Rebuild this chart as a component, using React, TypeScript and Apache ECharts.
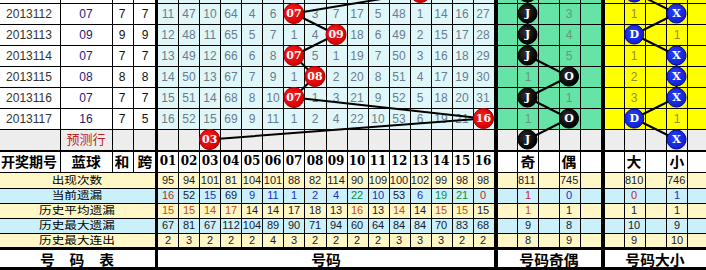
import React, { useEffect, useRef } from 'react';
import * as echarts from 'echarts';

// ---------------- data ----------------
const periods = ['2013112', '2013113', '2013114', '2013115', '2013116', '2013117'];
const blueBalls = [7, 9, 7, 8, 7, 16];
const digitSums = [7, 9, 7, 8, 7, 7];
const digitSpans = [7, 9, 7, 8, 7, 5];
const previousBall = 13; // 2013111, only its lower edge is visible
const predictedBall = 3;
const numberLabels = ['01', '02', '03', '04', '05', '06', '07', '08', '09', '10', '11', '12', '13', '14', '15', '16'];
const missRows: (number | null)[][] = [
  [11, 47, 10, 64, 4, 6, null, 3, 7, 17, 5, 48, 1, 14, 16, 27],
  [12, 48, 11, 65, 5, 7, 1, 4, null, 18, 6, 49, 2, 15, 17, 28],
  [13, 49, 12, 66, 6, 8, null, 5, 1, 19, 7, 50, 3, 16, 18, 29],
  [14, 50, 13, 67, 7, 9, 1, null, 2, 20, 8, 51, 4, 17, 19, 30],
  [15, 51, 14, 68, 8, 10, null, 1, 3, 21, 9, 52, 5, 18, 20, 31],
  [16, 52, 15, 69, 9, 11, 1, 2, 4, 22, 10, 53, 6, 19, 21, null],
];
const oddEvenMiss: (number | null)[][] = [[null, 3], [null, 4], [null, 5], [1, null], [null, 1], [1, null]];
const bigSmallMiss: (number | null)[][] = [[1, null], [null, 1], [1, null], [2, null], [3, null], [null, 1]];
const oddEvenLabels = ['奇', '偶'];
const bigSmallLabels = ['大', '小'];
const statLabels = ['出现次数', '当前遗漏', '历史平均遗漏', '历史最大遗漏', '历史最大连出'];
const appearCount = [95, 94, 101, 81, 104, 101, 88, 82, 114, 90, 109, 100, 102, 99, 98, 98];
const currentMiss = [16, 52, 15, 69, 9, 11, 1, 2, 4, 22, 10, 53, 6, 19, 21, 0];
const avgMiss = [15, 15, 14, 17, 14, 14, 17, 18, 13, 16, 13, 14, 14, 15, 15, 15];
const maxMiss = [67, 81, 67, 112, 104, 89, 90, 71, 94, 60, 64, 84, 84, 70, 83, 68];
const maxStreak = [2, 3, 2, 2, 2, 4, 3, 2, 2, 2, 2, 3, 3, 3, 2, 2];
const oddEvenStats = [[811, 745], [1, 0], [1, 1], [9, 8], [8, 9]];
const bigSmallStats = [[810, 746], [0, 1], [1, 1], [10, 9], [9, 10]];
// colour codes of the coloured statistic rows
const currentMissTone = ['r', 'k', 'b', 'k', 'b', 'b', 'b', 'b', 'b', 'g', 'b', 'k', 'b', 'g', 'g', 'r'];
const avgMissTone = ['o', 'o', 'o', 'o', 'k', 'k', 'k', 'k', 'k', 'o', 'k', 'o', 'k', 'o', 'o', 'k'];
const oddEvenTone = [['k', 'k'], ['r', 'b'], ['o', 'k'], ['k', 'k'], ['k', 'k']];
const bigSmallTone = [['k', 'k'], ['r', 'b'], ['k', 'k'], ['k', 'k'], ['k', 'k']];

// ---------------- layout ----------------
const W = 706;
const H = 270;
const LEFT_EDGES = [-2, 60, 111.5, 133, 156];
const NUM_X0 = 157;
const NUM_W = 21.0625;
const OE_EDGES = [497, 517, 538, 558.5, 579.5, 601];
const BS_EDGES = [604, 623.5, 645, 666, 687, 708];
const ROW_TOP0 = 3;
const ROW_H = 21;
const HEAD_Y = [150, 171.5];
const STAT_Y = [171.5, 187.5, 202.5, 217.5, 232.5, 247.5];
const FOOT_Y = [248, 268];
const THICK_V = [[155, 158], [494, 497], [601, 604]];
const THICK_H = [[150, 152], [247, 250], [267, 270]];

const WHITE = '#FFFFFF';
const GREY = '#EDEDED';
const CYAN = '#E0F7FA';
const GREEN = '#66E3A6';
const YELLOW = '#FFFF00';
const STAT_FILL = ['#FFF7C6', '#C9F0FB'];
const TONES: Record<string, string> = { r: '#C0282A', k: '#1A1A2E', b: '#1A2FC4', g: '#138A3A', o: '#C8500A' };

const SANS = "'Liberation Sans', Arial, sans-serif";
const NARROW = "'Liberation Sans Narrow', 'Liberation Sans', Arial, sans-serif";
const SERIF = "'DejaVu Serif', serif";
const CJK = "'Noto Sans CJK SC', sans-serif";

const rowTop = (k: number) => ROW_TOP0 + k * ROW_H;
const rowMid = (k: number) => rowTop(k) + ROW_H / 2;
const numEdge = (i: number) => NUM_X0 + i * NUM_W;
const numMid = (n: number) => NUM_X0 + (n - 0.5) * NUM_W;
const mid = (e: number[], i: number) => (e[i] + e[i + 1]) / 2;

type Cell = { x0: number; y0: number; x1: number; y1: number; fill: string; stroke: boolean };
type Txt = {
  x: number; y: number; text: string; color: string; size: number; family: string; weight: string; align: string; sx: number;
};

function buildTable() {
  const cells: Cell[] = [];
  const texts: Txt[] = [];
  const cell = (x0: number, y0: number, x1: number, y1: number, fill: string) =>
    cells.push({ x0, y0, x1, y1, fill, stroke: true });
  const txt = (x: number, y: number, text: string, color: string, size: number, family: string, weight = 'normal', align = 'center', sx = 1) =>
    texts.push({ x, y, text, color, size, family, weight, align, sx });

  const rowCells = (y0: number, y1: number, left: string, num: string, oe: string, bs: string, mergedLeft: boolean) => {
    if (mergedLeft) cell(LEFT_EDGES[0], y0, LEFT_EDGES[4], y1, left);
    else for (let i = 0; i < 4; i++) cell(LEFT_EDGES[i], y0, LEFT_EDGES[i + 1], y1, left);
    for (let i = 0; i < 16; i++) cell(numEdge(i), y0, numEdge(i + 1), y1, num);
    for (let i = 0; i < 5; i++) cell(OE_EDGES[i], y0, OE_EDGES[i + 1], y1, oe);
    for (let i = 0; i < 5; i++) cell(BS_EDGES[i], y0, BS_EDGES[i + 1], y1, bs);
  };

  // draw rows (k = -1 is the partially visible 2013111, k = 6 is the prediction row)
  for (let k = -1; k <= 6; k++) {
    const pred = k === 6;
    rowCells(rowTop(k), rowTop(k) + ROW_H, pred ? GREY : WHITE, pred ? GREY : CYAN, pred ? GREY : GREEN, pred ? GREY : YELLOW, false);
  }
  for (let k = 0; k < periods.length; k++) {
    const y = rowMid(k);
    txt(mid(LEFT_EDGES, 0), y, periods[k], '#333333', 12, SANS);
    txt(mid(LEFT_EDGES, 1), y, String(blueBalls[k]).padStart(2, '0'), '#1C1C78', 12, SANS);
    txt(mid(LEFT_EDGES, 2), y, String(digitSums[k]), '#111111', 12, SANS);
    txt(mid(LEFT_EDGES, 3), y, String(digitSpans[k]), '#111111', 12, SANS);
    missRows[k].forEach((v, j) => {
      if (v !== null) txt(numMid(j + 1), y, String(v), '#6B7B8C', 12, NARROW);
    });
    oddEvenMiss[k].forEach((v, j) => {
      if (v !== null) txt(mid(OE_EDGES, 1 + 2 * j), y, String(v), '#5E9C7C', 12, NARROW);
    });
    bigSmallMiss[k].forEach((v, j) => {
      if (v !== null) txt(mid(BS_EDGES, 1 + 2 * j), y, String(v), '#9A8A30', 12, NARROW);
    });
  }
  txt(mid(LEFT_EDGES, 1), rowMid(6) - 1.5, '预测行', '#C81E1E', 13, CJK);

  // header
  rowCells(HEAD_Y[0], HEAD_Y[1], WHITE, WHITE, WHITE, WHITE, false);
  const hy = (HEAD_Y[0] + HEAD_Y[1]) / 2 + 0.5;
  txt(mid(LEFT_EDGES, 0), hy, '开奖期号', '#000', 14, CJK, 'bold');
  txt(mid(LEFT_EDGES, 1), hy, '蓝球', '#000', 14, CJK, 'bold', 'center', 1.06);
  txt(mid(LEFT_EDGES, 2), hy, '和', '#000', 14, CJK, 'bold', 'center', 1.06);
  txt(mid(LEFT_EDGES, 3), hy, '跨', '#000', 14, CJK, 'bold', 'center', 1.06);
  numberLabels.forEach((l, j) => txt(numMid(j + 1), hy, l, '#000', 12, SERIF, 'bold'));
  oddEvenLabels.forEach((l, j) => txt(mid(OE_EDGES, 1 + 2 * j), hy, l, '#000', 14, CJK, 'bold', 'center', 1.06));
  bigSmallLabels.forEach((l, j) => txt(mid(BS_EDGES, 1 + 2 * j), hy, l, '#000', 14, CJK, 'bold', 'center', 1.06));

  // statistics
  const statRows = [appearCount, currentMiss, avgMiss, maxMiss, maxStreak];
  const statTones = [null, currentMissTone, avgMissTone, null, null];
  statRows.forEach((vals, i) => {
    const fill = STAT_FILL[i % 2];
    rowCells(STAT_Y[i], STAT_Y[i + 1], fill, fill, fill, fill, true);
    const y = (STAT_Y[i] + STAT_Y[i + 1]) / 2;
    txt((LEFT_EDGES[0] + LEFT_EDGES[4]) / 2, y, statLabels[i], '#000', 10.2, CJK, 'normal', 'center', 1.24);
    const tones = statTones[i];
    vals.forEach((v, j) => txt(numMid(j + 1), y, String(v), TONES[tones ? tones[j] : 'k'], 11, SANS));
    oddEvenStats[i].forEach((v, j) => {
      const c = 1 + 2 * j;
      if (v >= 100) txt(OE_EDGES[c] + 1, y, String(v), TONES[oddEvenTone[i][j]], 11, SANS, 'normal', 'left');
      else txt(mid(OE_EDGES, c), y, String(v), TONES[oddEvenTone[i][j]], 11, SANS);
    });
    bigSmallStats[i].forEach((v, j) => {
      const c = 1 + 2 * j;
      if (v >= 100) txt(BS_EDGES[c] + 1, y, String(v), TONES[bigSmallTone[i][j]], 11, SANS, 'normal', 'left');
      else txt(mid(BS_EDGES, c), y, String(v), TONES[bigSmallTone[i][j]], 11, SANS);
    });
  });

  // footer
  cell(LEFT_EDGES[0], FOOT_Y[0], LEFT_EDGES[4], FOOT_Y[1], WHITE);
  cell(numEdge(0), FOOT_Y[0], numEdge(16), FOOT_Y[1], WHITE);
  cell(OE_EDGES[0], FOOT_Y[0], OE_EDGES[5], FOOT_Y[1], WHITE);
  cell(BS_EDGES[0], FOOT_Y[0], BS_EDGES[5], FOOT_Y[1], WHITE);
  const fy = (FOOT_Y[0] + FOOT_Y[1]) / 2 + 0.5;
  txt((LEFT_EDGES[0] + LEFT_EDGES[4]) / 2, fy, '号　码　表', '#000', 13.5, CJK, 'bold', 'center', 1.1);
  txt((numEdge(0) + numEdge(16)) / 2, fy, '号码', '#000', 13.5, CJK, 'bold', 'center', 1.1);
  txt((OE_EDGES[0] + OE_EDGES[5]) / 2, fy, '号码奇偶', '#000', 13.5, CJK, 'bold', 'center', 1.1);
  txt((BS_EDGES[0] + W) / 2, fy, '号码大小', '#000', 13.5, CJK, 'bold', 'center', 1.1);

  // thick separators
  const thick: Cell[] = [];
  THICK_V.forEach(([a, b]) => thick.push({ x0: a, y0: -30, x1: b, y1: H, fill: '#000', stroke: false }));
  THICK_H.forEach(([a, b]) => thick.push({ x0: -2, y0: a, x1: W + 2, y1: b, fill: '#000', stroke: false }));
  return { cells, texts, thick };
}

function rectSeries(items: Cell[], z: number) {
  return {
    type: 'custom',
    z,
    silent: true,
    clip: false,
    data: items.map((c) => [c.x0, c.y0, c.x1, c.y1]),
    renderItem: (params: any, api: any) => {
      const c = items[params.dataIndex];
      const a = api.coord([c.x0, c.y0]);
      const b = api.coord([c.x1, c.y1]);
      if (c.stroke) {
        const ax = Math.round(a[0]);
        const ay = Math.round(a[1]);
        return {
          type: 'rect',
          shape: { x: ax + 0.5, y: ay + 0.5, width: Math.round(b[0]) - ax, height: Math.round(b[1]) - ay },
          style: { fill: c.fill, stroke: '#000', lineWidth: 1 },
        };
      }
      return {
        type: 'rect',
        shape: { x: Math.round(a[0]), y: Math.round(a[1]), width: Math.round(b[0]) - Math.round(a[0]), height: Math.round(b[1]) - Math.round(a[1]) },
        style: { fill: c.fill },
      };
    },
  };
}

function textSeries(items: Txt[], z: number) {
  return {
    type: 'custom',
    z,
    silent: true,
    clip: false,
    data: items.map((t) => [t.x, t.y]),
    renderItem: (params: any, api: any) => {
      const t = items[params.dataIndex];
      const p = api.coord([t.x, t.y]);
      const align = t.align || 'center';
      return {
        type: 'text',
        x: Math.round(p[0]),
        y: Math.round(p[1]),
        scaleX: t.sx,
        style: {
          text: t.text,
          fill: t.color,
          fontSize: t.size,
          fontFamily: t.family,
          fontWeight: t.weight,
          font: `${t.weight} ${t.size}px ${t.family}`,
          lineHeight: Math.min(t.size, 13),
          align,
          verticalAlign: 'middle',
          textAlign: align,
          textVerticalAlign: 'middle',
        },
      };
    },
  };
}

function buildOption() {
  const { cells, texts, thick } = buildTable();
  const drawn = [previousBall, ...blueBalls, predictedBall];
  const rowsK = drawn.map((_, i) => i - 1);
  const numPts = drawn.map((n, i) => [numMid(n), rowMid(rowsK[i])]);
  const oePts = drawn.map((n, i) => [mid(OE_EDGES, n % 2 === 1 ? 1 : 3), rowMid(rowsK[i])]);
  const bsPts = drawn.map((n, i) => [mid(BS_EDGES, n >= 9 ? 1 : 3), rowMid(rowsK[i])]);
  const numText = drawn.map((n) => String(n).padStart(2, '0'));
  const oeText = drawn.map((n) => (n % 2 === 1 ? 'J' : 'O'));
  const bsText = drawn.map((n) => (n >= 9 ? 'D' : 'X'));

  const ballData = (pts: number[][]) =>
    pts.map((p, i) => (i === 0 ? { value: p, label: { show: false } } : { value: p }));
  const ballSeries = (pts: number[][], labels: string[], color: any, border: string, size: number) => ({
    type: 'scatter',
    z: 6,
    clip: false,
    silent: true,
    symbol: 'circle',
    symbolSize: size,
    data: ballData(pts),
    itemStyle: { color, borderColor: border, borderWidth: 1, opacity: 1 },
    label: {
      show: true,
      position: 'inside',
      formatter: (p: any) => labels[p.dataIndex],
      color: '#FFFFFF',
      fontFamily: SERIF,
      fontWeight: 'bold',
      fontSize: 11,
      lineHeight: 11,
    },
  });
  const lineSeries = (pts: number[][]) => ({
    type: 'line',
    z: 5,
    clip: false,
    silent: true,
    symbol: 'none',
    data: pts,
    lineStyle: { color: '#000', width: 2 },
  });
  const radial = (c0: string, c1: string) =>
    new echarts.graphic.RadialGradient(0.4, 0.4, 0.6, [
      { offset: 0, color: c0 },
      { offset: 1, color: c1 },
    ]);

  return {
    animation: false,
    backgroundColor: '#FFFFFF',
    grid: { left: 0, top: 0, width: W, height: H },
    xAxis: { type: 'value', min: 0, max: W, show: false },
    yAxis: { type: 'value', min: 0, max: H, inverse: true, show: false },
    series: [
      rectSeries(cells, 1),
      rectSeries(thick, 2),
      textSeries(texts, 3),
      lineSeries(numPts),
      lineSeries(oePts),
      lineSeries(bsPts),
      ballSeries(numPts, numText, radial('#FF2020', '#D00000'), '#B00000', 20),
      ballSeries(oePts, oeText, radial('#303030', '#000000'), '#000000', 19),
      ballSeries(bsPts, bsText, radial('#2A40FF', '#1020D0'), '#0A0A90', 19),
    ],
  };
}

export default function App() {
  const ref = useRef<HTMLDivElement>(null);
  useEffect(() => {
    if (!ref.current) return;
    const chart = echarts.init(ref.current, undefined, { renderer: 'svg' });
    chart.setOption(buildOption() as any);
    return () => chart.dispose();
  }, []);
  return (
    <div
      ref={ref}
      style={{ position: 'fixed', left: 0, top: 0, width: W, height: H, background: '#FFFFFF' }}
    />
  );
}
